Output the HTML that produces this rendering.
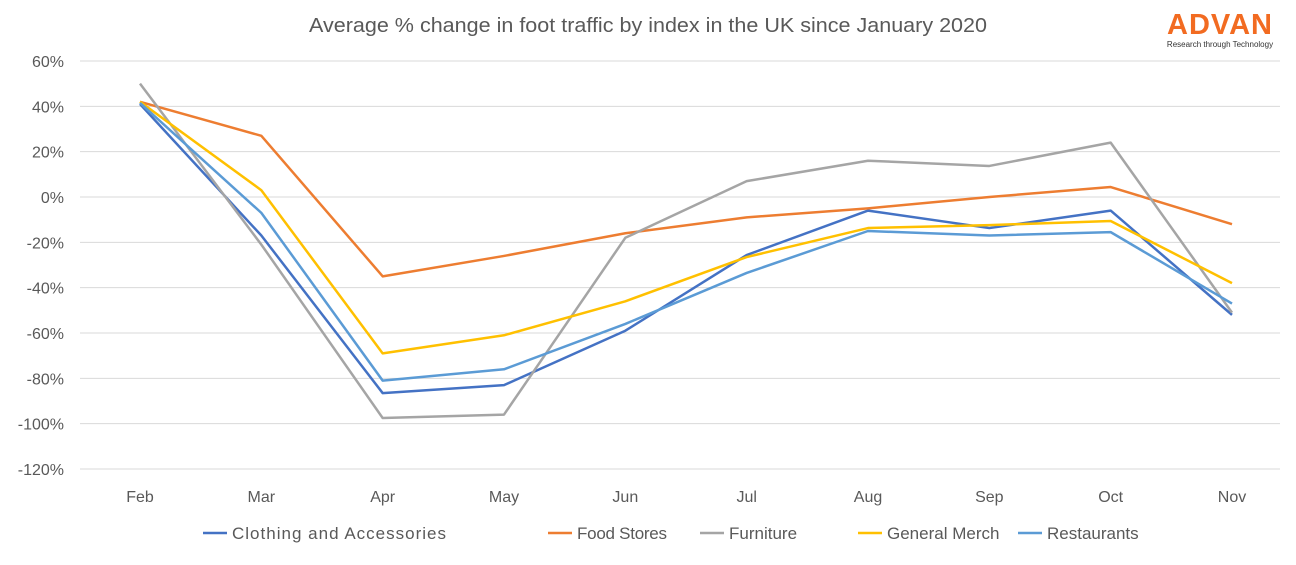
<!DOCTYPE html>
<html><head><meta charset="utf-8"><style>
body{margin:0;background:#fff;font-family:"Liberation Sans",sans-serif;}
svg text{font-family:"Liberation Sans",sans-serif;}
</style></head><body>
<svg id="chart" width="1296" height="560" xmlns="http://www.w3.org/2000/svg">
<rect width="1296" height="560" fill="#fff"/>
<text x="309" y="32" font-size="20" fill="#595959" textLength="678" lengthAdjust="spacingAndGlyphs">Average % change in foot traffic by index in the UK since January 2020</text>
<g>
<text x="1220" y="34" text-anchor="middle" font-size="29" font-weight="bold" fill="#F26B21" letter-spacing="1">ADVAN</text>
<text x="1220" y="47" text-anchor="middle" font-size="8" fill="#333">Research through Technology</text>
</g>
<g id="grid"></g><g id="yt"></g><g id="xt"></g><g id="lines"></g><g id="legend"></g>
</svg>
<script>
const months=["Feb","Mar","Apr","May","Jun","Jul","Aug","Sep","Oct","Nov"];
const yTicks=[60,40,20,0,-20,-40,-60,-80,-100,-120];
const seriesNames=["Clothing and Accessories","Food Stores","Furniture","General Merch","Restaurants"];
const seriesColors=["#4472C4","#ED7D31","#A5A5A5","#FFC000","#5B9BD5"];
const clothing=[41,-17,-86.5,-83,-59,-25.6,-6,-13.7,-6,-52];
const food=[42,27,-35,-26,-16,-9,-5,0,4.4,-12];
const furniture=[50,-21,-97.5,-96,-18,7,16,13.7,24,-51];
const general=[42,3,-69,-61,-46,-26.5,-13.7,-12.4,-10.6,-38];
const restaurants=[41.5,-7,-81,-76,-56,-33.5,-15,-17,-15.5,-47];
const allSeries=[clothing,food,furniture,general,restaurants];
const NS="http://www.w3.org/2000/svg";
const x=i=>140+i*(1232-140)/(months.length-1);
const y=v=>197-v*(408/180);
function mk(t,a,p){const e=document.createElementNS(NS,t);for(const k in a)e.setAttribute(k,a[k]);p.appendChild(e);return e;}
const g=document.getElementById('grid'),yt=document.getElementById('yt'),xt=document.getElementById('xt'),ln=document.getElementById('lines'),lg=document.getElementById('legend');
yTicks.forEach(v=>{
 const l=mk('line',{x1:80,x2:1280,y1:y(v),y2:y(v),stroke:'#D9D9D9','stroke-width':1},g);
 
 
 const t=mk('text',{x:64,y:y(v)+6,'text-anchor':'end','font-size':16,fill:'#595959'},yt);
 t.textContent=v+'%';
 
 
});
months.forEach((m,i)=>{
 const t=mk('text',{x:x(i),y:502,'text-anchor':'middle','font-size':16,fill:'#595959'},xt);
 t.textContent=m;
 
 
});
allSeries.forEach((s,k)=>{
 const p=mk('polyline',{points:s.map((v,i)=>x(i)+','+y(v)).join(' '),fill:'none',stroke:seriesColors[k],'stroke-width':2.5,'stroke-linejoin':'round'},ln);
 
 
});
const lx=[203,548,700,858,1018];
const lw=[214,90,0,0,0];
seriesNames.forEach((n,k)=>{
 const gg=mk('g',{},lg);
 
 
 mk('line',{x1:lx[k],x2:lx[k]+24,y1:533,y2:533,stroke:seriesColors[k],'stroke-width':2.5},gg);
 const attrs={x:lx[k]+29,y:539,'font-size':17,fill:'#595959'};
 if(lw[k])attrs.textLength=lw[k];
 const t=mk('text',attrs,gg);
 t.textContent=n;
});
</script>
</body></html>
